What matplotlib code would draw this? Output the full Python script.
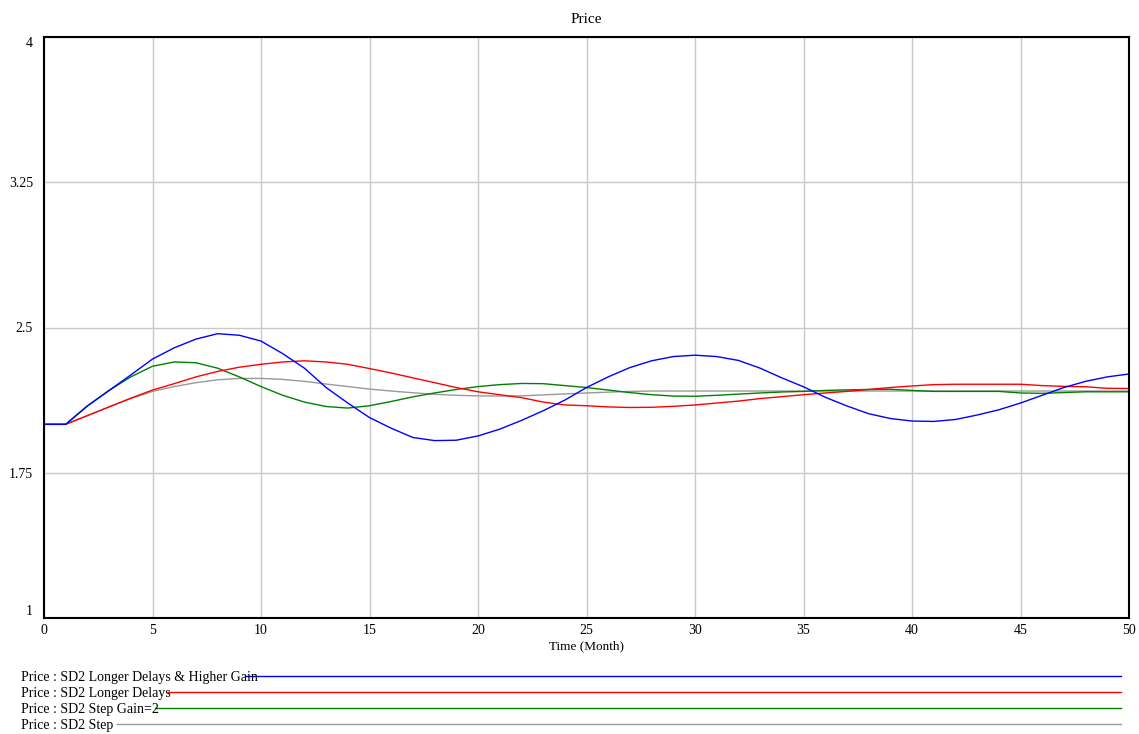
import matplotlib
matplotlib.use("Agg")
import matplotlib.pyplot as plt
from matplotlib.lines import Line2D

plt.rcParams['font.family'] = ['Liberation Serif', 'DejaVu Serif']

# time axis (months)
months = list(range(0, 51))

price_longer_delays_higher_gain = [
    2.0, 2.0, 2.095, 2.175, 2.255, 2.337, 2.395, 2.44, 2.468, 2.46,
    2.43, 2.365, 2.29, 2.19, 2.11, 2.035, 1.98, 1.932, 1.916, 1.918,
    1.94, 1.975, 2.02, 2.07, 2.125, 2.19, 2.245, 2.293, 2.328, 2.35,
    2.357, 2.35, 2.33, 2.29, 2.24, 2.194, 2.14, 2.095, 2.055, 2.03,
    2.017, 2.015, 2.025, 2.048, 2.075, 2.11, 2.15, 2.19, 2.222, 2.245,
    2.26]
price_longer_delays = [
    2.0, 2.0, 2.045, 2.09, 2.135, 2.177, 2.21, 2.245, 2.273, 2.295,
    2.31, 2.322, 2.328, 2.322, 2.31, 2.288, 2.265, 2.24, 2.215, 2.19,
    2.168, 2.153, 2.138, 2.115, 2.1, 2.096, 2.09, 2.087, 2.088, 2.093,
    2.1, 2.11, 2.12, 2.133, 2.143, 2.153, 2.162, 2.17, 2.18, 2.19,
    2.198, 2.205, 2.207, 2.207, 2.207, 2.207, 2.2, 2.196, 2.194, 2.186,
    2.185]
price_step_gain2 = [
    2.0, 2.0, 2.095, 2.175, 2.245, 2.3, 2.322, 2.318, 2.29, 2.245,
    2.195, 2.15, 2.115, 2.092, 2.084, 2.096, 2.118, 2.142, 2.162, 2.18,
    2.195, 2.205, 2.211, 2.21, 2.2, 2.19, 2.177, 2.164, 2.153, 2.146,
    2.145, 2.15, 2.156, 2.162, 2.167, 2.17, 2.175, 2.178, 2.18, 2.181,
    2.175, 2.17, 2.17, 2.17, 2.17, 2.162, 2.16, 2.164, 2.168, 2.168,
    2.168]
price_step = [
    2.0, 2.0, 2.045, 2.09, 2.133, 2.17, 2.195, 2.215, 2.23, 2.237,
    2.237, 2.232, 2.222, 2.208, 2.195, 2.182, 2.172, 2.163, 2.155, 2.15,
    2.147, 2.146, 2.147, 2.152, 2.157, 2.162, 2.166, 2.17, 2.172, 2.172,
    2.172, 2.172, 2.172, 2.172, 2.172, 2.172, 2.172, 2.172, 2.172, 2.172,
    2.172, 2.172, 2.172, 2.172, 2.172, 2.172, 2.172, 2.172, 2.172, 2.172,
    2.172]

series_labels = ["Price : SD2 Longer Delays & Higher Gain",
                 "Price : SD2 Longer Delays",
                 "Price : SD2 Step Gain=2",
                 "Price : SD2 Step"]
series_colors = ["#0000ff", "#ff0000", "#008000", "#999999"]
y_ticks = [1, 1.75, 2.5, 3.25, 4]
x_ticks = list(range(0, 51, 5))

W, H = 1139, 734
fig = plt.figure(figsize=(W / 100, H / 100), dpi=100)
ax = fig.add_axes([44 / W, 1 - 618 / H, 1085 / W, 581 / H])

all_series = [price_longer_delays_higher_gain, price_longer_delays,
              price_step_gain2, price_step]
# draw back to front like the original (gray under, blue on top)
for vals, col in reversed(list(zip(all_series, series_colors))):
    ax.plot(months, vals, color=col, lw=1.0)

ax.set_xlim(0, 50)
ax.set_ylim(1, 4)
ax.set_xticks(x_ticks)
ax.set_yticks(y_ticks)
ax.set_yticklabels(["1", "1.75", "2.5", "3.25", "4"])
ax.tick_params(length=0, labelsize=10, pad=8)
ax.tick_params(axis='x', pad=4)
labs = ax.get_yticklabels()
labs[0].set_va('bottom')
labs[-1].set_va('top')
ax.grid(True, color="#c8c8c8", lw=1.0)
ax.set_axisbelow(True)
for s in ax.spines.values():
    s.set_linewidth(1.5)
    s.set_color("black")
ax.set_title("Price", fontsize=11, pad=10)
ax.set_xlabel("Time (Month)", fontsize=9.5, labelpad=3)

# Vensim-style legend under the chart: label, then a line out to the right
legend_y = [677, 693, 709, 725]
line_start = [245, 168, 155, 117]
for lab, col, py, x0 in zip(series_labels, series_colors, legend_y, line_start):
    fig.text(21 / W, 1 - py / H, lab, fontsize=10, va='center', ha='left')
    fig.add_artist(Line2D([x0 / W, 1121 / W], [1 - (py - 1) / H] * 2,
                          transform=fig.transFigure, color=col, lw=1.0))

fig.savefig("out.png", dpi=100)
